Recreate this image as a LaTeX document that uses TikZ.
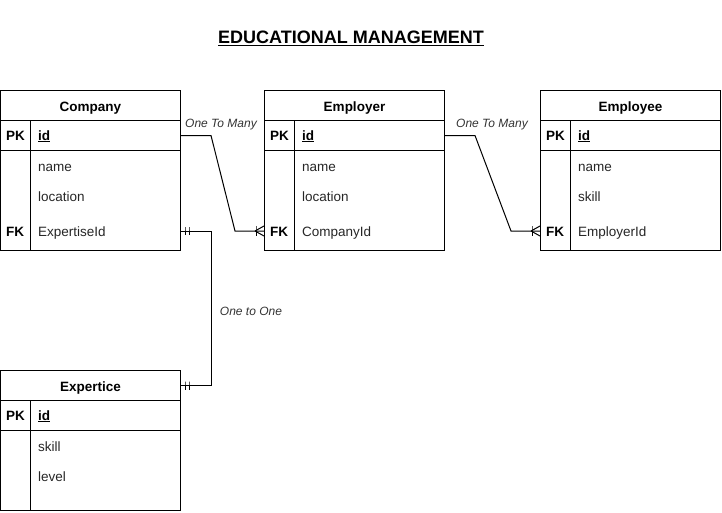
\documentclass[tikz,border=0pt]{standalone}
\usepackage{fontspec}
\setmainfont{Liberation Sans}
\begin{document}
\begin{tikzpicture}[x=1pt,y=-1pt,
  box/.style={draw, line width=1pt, inner sep=0pt, anchor=north west},
  hdr/.style={box, minimum width=180pt, minimum height=30pt, text height=11pt, text depth=0pt, font=\bfseries\fontsize{13.5}{16}\selectfont},
  keycell/.style={box, minimum width=30pt, minimum height=30pt, text height=10pt, text depth=0pt, font=\bfseries\fontsize{13.5}{16}\selectfont},
  idcell/.style={box, minimum width=150pt, minimum height=30pt},
  keycol/.style={box, minimum width=30pt},
  fieldcol/.style={box, minimum width=150pt},
  field/.style={anchor=west, inner sep=0pt, text height=10pt, text depth=0pt, text=black!85, font=\fontsize{13.5}{16}\selectfont},
  idtext/.style={anchor=west, inner sep=0pt, text height=10pt, text depth=0pt, font=\bfseries\fontsize{13.5}{16}\selectfont},
  fklabel/.style={anchor=center, inner sep=0pt, text height=10pt, text depth=0pt, font=\bfseries\fontsize{13.5}{16}\selectfont},
  rel/.style={inner sep=0pt, text height=8.6pt, text depth=0pt, text=black!80, font=\itshape\fontsize{12}{14}\selectfont},
  conn/.style={line width=1pt},
]
\useasboundingbox (0,0) rectangle (722,512);

\node[inner sep=0pt, text height=12.9pt, text depth=0pt, font=\bfseries\fontsize{18}{21}\selectfont] (title) at (351,37) {\underline{EDUCATIONAL MANAGEMENT}};

% Company
\node[hdr] (cohdr) at (0,90) {Company};
\node[keycell] (copk) at (0,120) {PK};
\node[idcell] (coid) at (30,120) {};
\node[idtext] (coidt) at (38,135) {\underline{id}};
\node[keycol, minimum height=100pt] (cokeys) at (0,150) {};
\node[fieldcol, minimum height=100pt] (cobody) at (30,150) {};
\node[field] (coname) at (38,166) {name};
\node[field] (coloc) at (38,196) {location};
\node[field] (cofk) at (38,231) {ExpertiseId};
\node[fklabel] (cofkl) at (15,231) {FK};

% Employer
\node[hdr] (erhdr) at (264,90) {Employer};
\node[keycell] (erpk) at (264,120) {PK};
\node[idcell] (erid) at (294,120) {};
\node[idtext] (eridt) at (302,135) {\underline{id}};
\node[keycol, minimum height=100pt] (erkeys) at (264,150) {};
\node[fieldcol, minimum height=100pt] (erbody) at (294,150) {};
\node[field] (ername) at (302,166) {name};
\node[field] (erloc) at (302,196) {location};
\node[field] (erfk) at (302,231) {CompanyId};
\node[fklabel] (erfkl) at (279,231) {FK};

% Employee
\node[hdr] (eehdr) at (540,90) {Employee};
\node[keycell] (eepk) at (540,120) {PK};
\node[idcell] (eeid) at (570,120) {};
\node[idtext] (eeidt) at (578,135) {\underline{id}};
\node[keycol, minimum height=100pt] (eekeys) at (540,150) {};
\node[fieldcol, minimum height=100pt] (eebody) at (570,150) {};
\node[field] (eename) at (578,166) {name};
\node[field] (eeskill) at (578,196) {skill};
\node[field] (eefk) at (578,231) {EmployerId};
\node[fklabel] (eefkl) at (555,231) {FK};

% Expertice
\node[hdr] (exhdr) at (0,370) {Expertice};
\node[keycell] (expk) at (0,400) {PK};
\node[idcell] (exid) at (30,400) {};
\node[idtext] (exidt) at (38,415) {\underline{id}};
\node[keycol, minimum height=80pt] (exkeys) at (0,430) {};
\node[fieldcol, minimum height=80pt] (exbody) at (30,430) {};
\node[field] (exskill) at (38,446) {skill};
\node[field] (exlevel) at (38,476) {level};

% Relationship labels
\node[rel] (r1) at (221,123) {One To Many};
\node[rel] (r2) at (492,123) {One To Many};
\node[rel] (r3) at (251,311) {One to One};

% Company -> Employer
\coordinate (a1) at (erkeys.west |- erfkl);
\draw[conn] (coid.east) -- ++(30,0) -- (235,231) -- (a1);
\draw[conn] ([xshift=-8pt]a1) -- ++(0,-5) -- ++(0,10);
\draw[conn] ([xshift=-9pt]a1) -- ([yshift=-5pt]a1);
\draw[conn] ([xshift=-9pt]a1) -- ([yshift=5pt]a1);

% Employer -> Employee
\coordinate (a2) at (eekeys.west |- eefkl);
\draw[conn] (erid.east) -- ++(30,0) -- (511,231) -- (a2);
\draw[conn] ([xshift=-8pt]a2) -- ++(0,-5) -- ++(0,10);
\draw[conn] ([xshift=-9pt]a2) -- ([yshift=-5pt]a2);
\draw[conn] ([xshift=-9pt]a2) -- ([yshift=5pt]a2);

% Company <-> Expertice
\coordinate (b1) at (cobody.east |- cofk);
\coordinate (b2) at (exhdr.east);
\draw[conn] (b1) -- ++(30,0) |- (b2);
\draw[conn] ([xshift=4pt]b1) -- ++(0,-4) -- ++(0,8);
\draw[conn] ([xshift=8pt]b1) -- ++(0,-4) -- ++(0,8);
\draw[conn] ([xshift=4pt]b2) -- ++(0,-4) -- ++(0,8);
\draw[conn] ([xshift=8pt]b2) -- ++(0,-4) -- ++(0,8);
\end{tikzpicture}
\end{document}
